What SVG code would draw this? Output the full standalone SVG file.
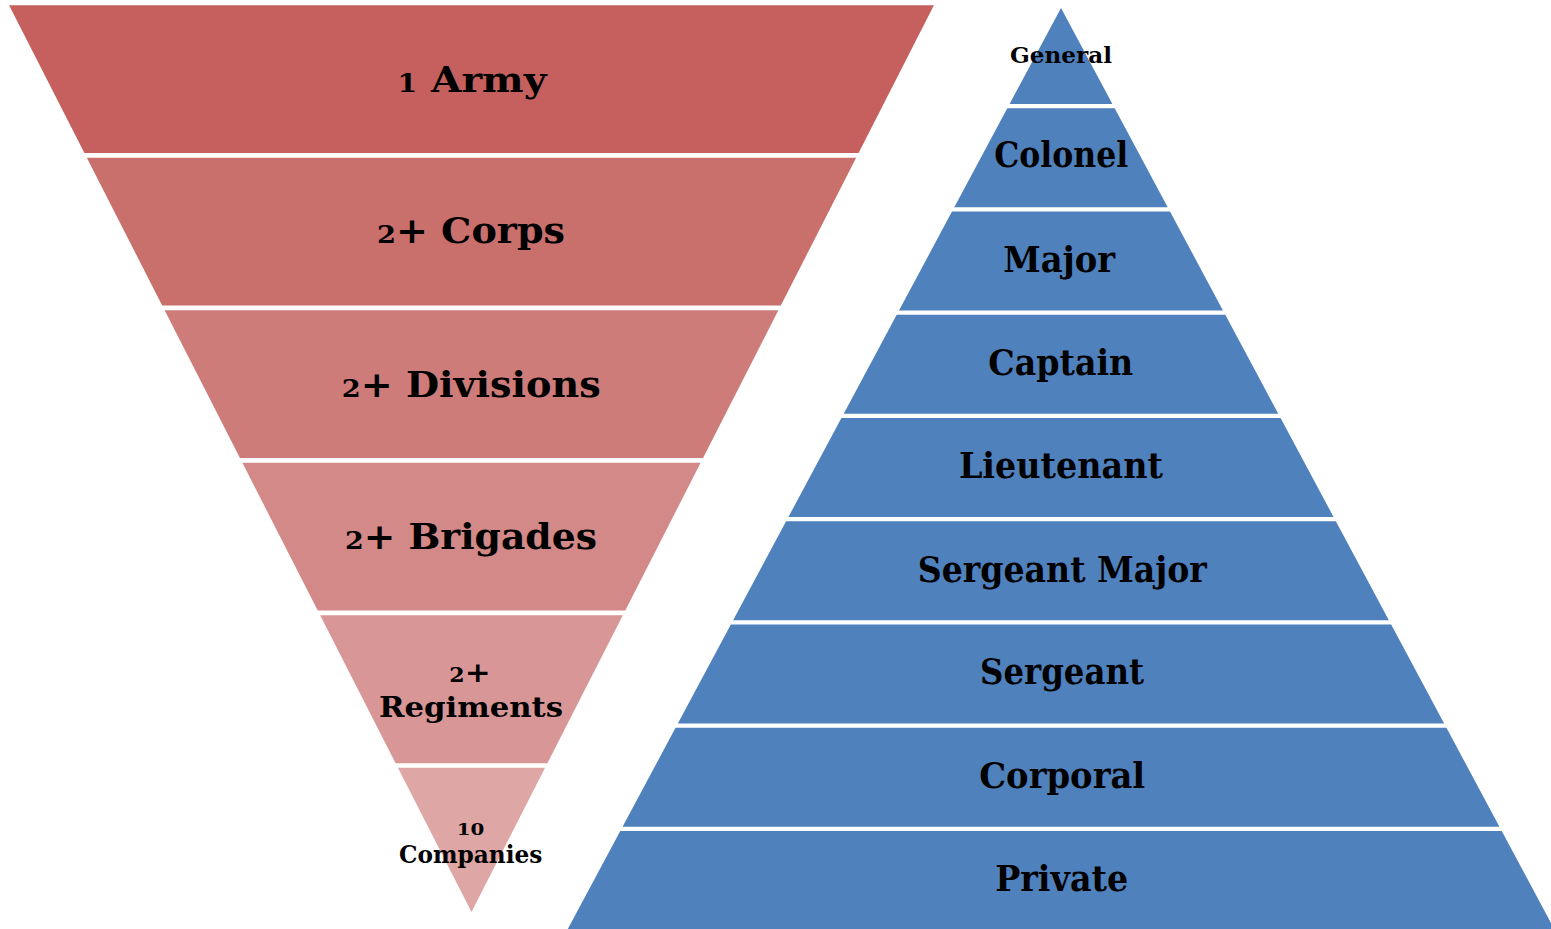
<svg xmlns="http://www.w3.org/2000/svg" width="1551" height="929" viewBox="0 0 1551 929">
  <style>
    .lbl { font-family: "DejaVu Serif", "Liberation Serif", serif; font-weight: bold; fill: #000; text-anchor: middle; }
    .big { font-size: 35px; }
    .mid { font-size: 28px; }
    .sm { font-size: 24px; }
    .blue { fill: #4F81BD; }
  </style>
  <rect x="0" y="0" width="1551" height="929" fill="#FFFFFF"/>

  <g id="connectors"/>

  <!-- Left inverted pyramid (units) -->
  <g id="army">
    <polygon points="9.08,5.3 933.92,5.3 858.59,153 84.41,153" fill="#C5605E"/>
    <text class="lbl" style="font-size:36px" x="472" y="91.7" textLength="149" lengthAdjust="spacingAndGlyphs"><tspan style="font-size:26px">1</tspan> Army</text>
  </g>
  <g id="corps">
    <polygon points="86.86,157.8 856.14,157.8 780.82,305.5 162.18,305.5" fill="#C96F6C"/>
    <text class="lbl big" x="471" y="243.3" textLength="188" lengthAdjust="spacingAndGlyphs"><tspan style="font-size:25px">2</tspan>+ Corps</text>
  </g>
  <g id="divisions">
    <polygon points="164.63,310.3 778.37,310.3 703.04,458 239.96,458" fill="#CE7C79"/>
    <text class="lbl big" x="471.2" y="396.7" textLength="259" lengthAdjust="spacingAndGlyphs"><tspan style="font-size:25px">2</tspan>+ Divisions</text>
  </g>
  <g id="brigades">
    <polygon points="242.41,462.8 700.59,462.8 625.27,610.5 317.73,610.5" fill="#D38987"/>
    <text class="lbl big" x="471" y="548.5" textLength="252" lengthAdjust="spacingAndGlyphs"><tspan style="font-size:25px">2</tspan>+ Brigades</text>
  </g>
  <g id="regiments">
    <polygon points="320.18,615.3 622.82,615.3 547.39,763.2 395.61,763.2" fill="#D89796"/>
    <text class="lbl mid" x="470" y="681.7" textLength="41.4" lengthAdjust="spacingAndGlyphs"><tspan style="font-size:20px">2</tspan>+</text>
    <text class="lbl mid" x="471" y="717.3" textLength="184" lengthAdjust="spacingAndGlyphs">Regiments</text>
  </g>
  <g id="companies">
    <polygon points="397.96,767.8 545.04,767.8 471.5,912" fill="#DEA6A5"/>
    <text class="lbl" style="font-size:16px" x="470.5" y="835" textLength="27.6" lengthAdjust="spacingAndGlyphs">10</text>
    <text class="lbl sm" x="470.7" y="863.3" textLength="143.3" lengthAdjust="spacingAndGlyphs">Companies</text>
  </g>

  <!-- Right pyramid (ranks) -->
  <g id="general">
    <polygon class="blue" points="1061,8 1112.41,104 1009.59,104"/>
    <text class="lbl" style="font-size:23px" x="1061" y="63.3" textLength="102" lengthAdjust="spacingAndGlyphs">General</text>
  </g>
  <g id="colonel">
    <polygon class="blue" points="1007.29,108.3 1114.71,108.3 1167.70,207.25 954.30,207.25"/>
    <text class="lbl big" x="1061.2" y="167.3" textLength="134" lengthAdjust="spacingAndGlyphs">Colonel</text>
  </g>
  <g id="major">
    <polygon class="blue" points="952.00,211.55 1170.00,211.55 1222.99,310.5 899.01,310.5"/>
    <text class="lbl big" x="1059.2" y="271.7" textLength="112" lengthAdjust="spacingAndGlyphs">Major</text>
  </g>
  <g id="captain">
    <polygon class="blue" points="896.71,314.8 1225.29,314.8 1278.28,413.75 843.72,413.75"/>
    <text class="lbl big" x="1060.8" y="375" textLength="145" lengthAdjust="spacingAndGlyphs">Captain</text>
  </g>
  <g id="lieutenant">
    <polygon class="blue" points="841.42,418.05 1280.58,418.05 1333.57,517 788.43,517"/>
    <text class="lbl big" x="1060.9" y="477.7" textLength="204" lengthAdjust="spacingAndGlyphs">Lieutenant</text>
  </g>
  <g id="sergeant-major">
    <polygon class="blue" points="786.13,521.3 1335.87,521.3 1388.86,620.25 733.14,620.25"/>
    <text class="lbl big" x="1062.3" y="581.7" textLength="289" lengthAdjust="spacingAndGlyphs">Sergeant Major</text>
  </g>
  <g id="sergeant">
    <polygon class="blue" points="730.84,624.55 1391.16,624.55 1444.15,723.5 677.85,723.5"/>
    <text class="lbl big" x="1062" y="684.3" textLength="164" lengthAdjust="spacingAndGlyphs">Sergeant</text>
  </g>
  <g id="corporal">
    <polygon class="blue" points="675.55,727.8 1446.45,727.8 1499.44,826.75 622.56,826.75"/>
    <text class="lbl big" x="1062.2" y="787.7" textLength="166" lengthAdjust="spacingAndGlyphs">Corporal</text>
  </g>
  <g id="private">
    <polygon class="blue" points="620.26,831.05 1501.74,831.05 1557.41,935 564.59,935"/>
    <text class="lbl big" x="1061.7" y="890.7" textLength="133" lengthAdjust="spacingAndGlyphs">Private</text>
  </g>
</svg>
